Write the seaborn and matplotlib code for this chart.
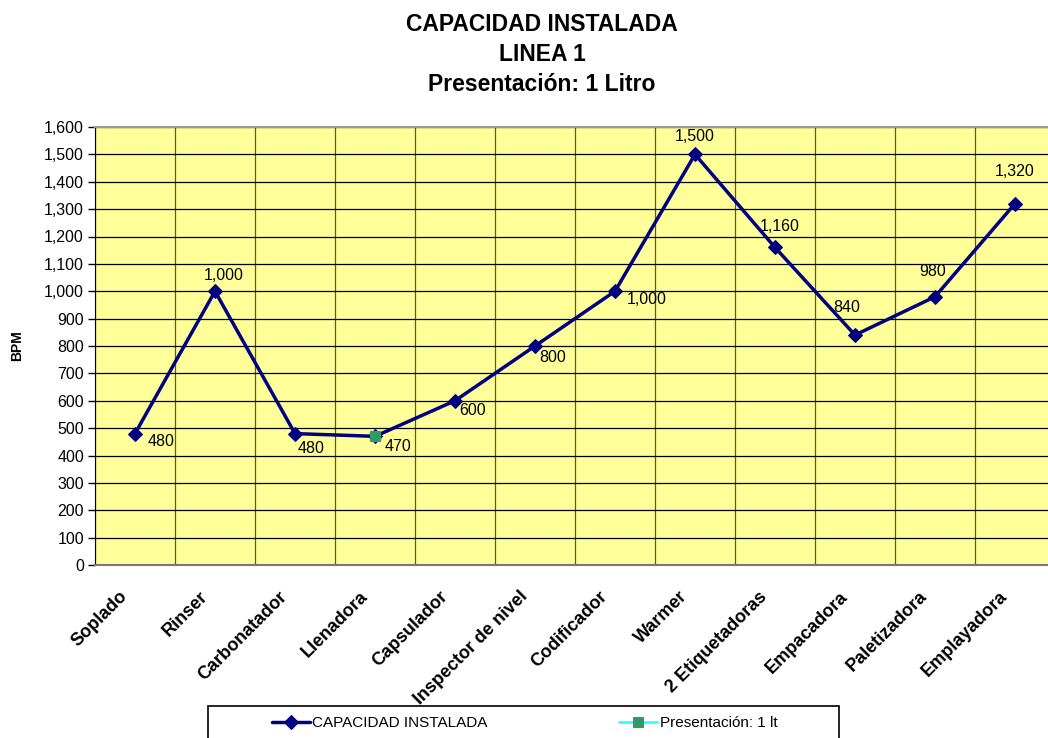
import matplotlib
matplotlib.use('Agg')
import matplotlib.pyplot as plt
from matplotlib.patches import Rectangle
import numpy as np
import pandas as pd
import seaborn as sns

categorias = ['Soplado', 'Rinser', 'Carbonatador', 'Llenadora', 'Capsulador',
              'Inspector de nivel', 'Codificador', 'Warmer', '2 Etiquetadoras',
              'Empacadora', 'Paletizadora', 'Emplayadora']
capacidad = [480, 1000, 480, 470, 600, 800, 1000, 1500, 1160, 840, 980, 1320]
presentacion = [np.nan, np.nan, np.nan, 470, np.nan, np.nan, np.nan, np.nan,
                np.nan, np.nan, np.nan, np.nan]
# label centre offset from its point, in pixels (x right, y down)
label_off = [(26, 8), (9, -16), (16, 15), (23, 10), (18, 10), (18, 12),
             (32, 8), (0, -18), (5, -21), (-8, -28), (-2, -25), (0, -32)]

sns.set_style('white')
plt.rcParams['font.family'] = ['Liberation Sans', 'DejaVu Sans']
plt.rcParams['text.color'] = 'black'
plt.rcParams['axes.labelcolor'] = 'black'
plt.rcParams['xtick.color'] = 'black'
plt.rcParams['ytick.color'] = 'black'

df = pd.DataFrame({'x': np.arange(len(categorias)), 'cap': capacidad,
                   'pres': presentacion})

fig = plt.figure(figsize=(10.48, 7.38), dpi=100)
ax = fig.add_axes([95 / 1048, 1 - 565 / 738, 960 / 1048, 438 / 738])
ax.set_facecolor('#FFFF99')

sns.lineplot(data=df, x='x', y='cap', ax=ax, color='#000080', linewidth=2.5,
             marker='D', markersize=7, markeredgecolor='#000080',
             label='CAPACIDAD INSTALADA', sort=False, zorder=3)
sns.lineplot(data=df.dropna(), x='x', y='pres', ax=ax, color='#33FFFF',
             linewidth=2, marker='s', markersize=7, markerfacecolor='#339966',
             markeredgecolor='#339966', label='Presentación: 1 lt', zorder=4)

for i, (v, (dx, dy)) in enumerate(zip(capacidad, label_off)):
    ax.annotate(f'{v:,}', (i, v), xytext=(dx, -dy), textcoords='offset pixels',
                ha='center', va='center', fontsize=11.5)

ax.set_xlim(-0.5, len(categorias) - 0.5)
ax.set_ylim(0, 1600)
ax.set_yticks(range(0, 1700, 100))
ax.set_yticklabels([f'{t:,}' for t in range(0, 1700, 100)], fontsize=11.5)

# category labels, rotated, drawn as annotations so they can be nudged left
ax.set_xticks(np.arange(len(categorias)))
ax.set_xticklabels([])
for i, cat in enumerate(categorias):
    ax.annotate(cat, (i, 0), xycoords=('data', 'axes fraction'),
                xytext=(-10, -29), textcoords='offset pixels', rotation=45,
                ha='right', va='center', rotation_mode='anchor',
                fontsize=13, fontweight='bold', annotation_clip=False)
ax.set_xticks(np.arange(-0.5, len(categorias)), minor=True)
ax.tick_params(axis='x', which='major', length=0)
ax.tick_params(axis='x', which='minor', length=5, color='#999999', width=1.5)
ax.tick_params(axis='y', length=5, width=1, color='black', left=True, pad=3)

ax.yaxis.grid(True, color='black', linewidth=0.9)
ax.xaxis.grid(True, which='minor', color='#5a5a30', linewidth=0.9)
ax.xaxis.grid(False, which='major')
ax.set_axisbelow(True)

for s in ['top', 'right']:
    ax.spines[s].set_color('#999999')
    ax.spines[s].set_linewidth(1.5)
ax.spines['left'].set_color('black')
ax.spines['bottom'].set_color('#777777')
ax.spines['bottom'].set_linewidth(1.5)

ax.set_xlabel('')
ax.set_ylabel('BPM', fontsize=10, fontweight='bold', labelpad=14)

for txt, yb in [('CAPACIDAD INSTALADA', 31), ('LINEA 1', 61),
                ('Presentación: 1 Litro', 91)]:
    fig.text(542 / 1048, 1 - yb / 738, txt, ha='center', va='baseline',
             fontsize=16.5, fontweight='bold')

ax.get_legend().remove()
h, l = ax.get_legend_handles_labels()
fig.legend(h, l, ncol=2, loc='center left',
           bbox_to_anchor=(272 / 1048, 1 - 723 / 738), frameon=False,
           fontsize=11, handlelength=2.5, handletextpad=0.15,
           columnspacing=8.6, borderpad=0, borderaxespad=0)
fig.patches.append(Rectangle((208 / 1048, -0.02), (839 - 208) / 1048,
                             (738 - 706) / 738 + 0.02, transform=fig.transFigure,
                             fill=False, edgecolor='black', linewidth=1.2))

fig.savefig('out.png', dpi=100)
